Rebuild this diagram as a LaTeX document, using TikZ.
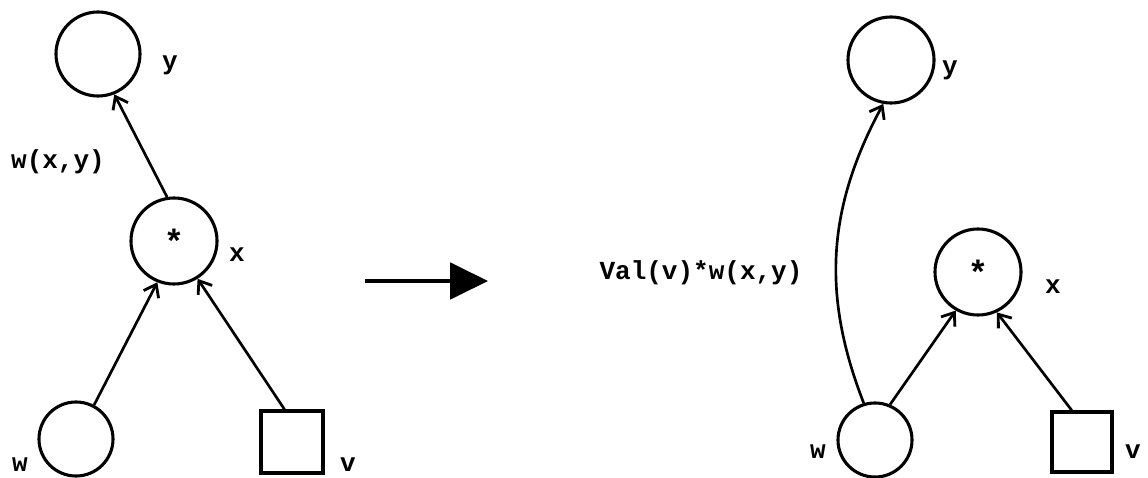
\documentclass[tikz,border=0pt]{standalone}
\usepackage{fontspec}
\setmonofont{Liberation Mono}
\usetikzlibrary{arrows.meta,bending}
\begin{document}
\begin{tikzpicture}[x=0.025cm,y=-0.025cm,
  vert/.style={draw,circle,line width=2.2pt,inner sep=0pt,minimum size=#1},
  sq/.style={draw,rectangle,line width=2.4pt,inner sep=0pt,minimum size=#1},
  lbl/.style={font=\fontsize{18.5}{19}\selectfont\ttfamily\bfseries,inner sep=0pt},
  star/.style={font=\fontsize{24}{24}\selectfont\ttfamily\bfseries},
  edge/.style={line width=1.9pt,-{Straight Barb[length=8pt,width=12pt,line width=2pt]}},
  bigarrow/.style={line width=2.4pt,-{Triangle[length=27pt,width=26pt]}}]
\useasboundingbox (0,0) rectangle (1148,478);
% left graph
\node[vert=2.1cm] (yL) at (98,54) {};
\node[vert=2.15cm,star] (xL) at (174,241) {*};
\node[vert=1.85cm] (wL) at (76,439) {};
\node[sq=1.55cm] (vL) at (292,442) {};
\node[lbl] (yLl) at (170,65) {y};
\node[lbl] (xLl) at (237,255) {x};
\node[lbl] (wLl) at (20,465) {w};
\node[lbl] (vLl) at (348,465) {v};
\node[lbl] (wxy) at (58,162) {w(x,y)};
\draw[edge] (xL.99) -- (yL.-68);
\draw[edge] (wL.62) -- (xL.248);
\draw[edge] (vL.103) -- (xL.-58);
% transformation arrow
\coordinate (a1) at (365,281);
\coordinate (a2) at (488,281);
\draw[bigarrow] (a1) -- (a2);
% right graph
\node[vert=2.15cm] (yR) at (891,60) {};
\node[vert=2.15cm,star] (xR) at (978,272) {*};
\node[vert=1.85cm] (wR) at (875,440) {};
\node[sq=1.5cm] (vR) at (1082,442) {};
\node[lbl] (yRl) at (950,70) {y};
\node[lbl] (xRl) at (1053,287) {x};
\node[lbl] (wRl) at (818,452) {w};
\node[lbl] (vRl) at (1133,452) {v};
\node[lbl] (val) at (701,273) {Val(v)*w(x,y)};
\draw[edge] (wR.107) to[bend left=25] (yR.-100);
\draw[edge] (wR.67) -- (xR.-120);
\draw[edge] (vR.108) -- (xR.-65);
\end{tikzpicture}
\end{document}
